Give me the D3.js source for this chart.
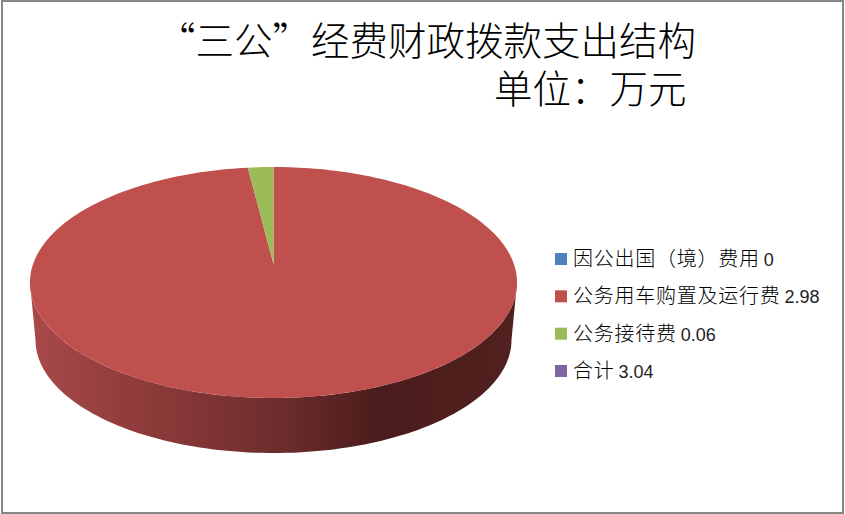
<!DOCTYPE html>
<html>
<head>
<meta charset="utf-8">
<script src="https://cdn.jsdelivr.net/npm/d3@7"></script>
<style>
  html, body { margin: 0; padding: 0; background: #fff; }
  svg { display: block; }
  .cjk { font-family: "Noto Sans CJK SC", sans-serif; }
</style>
</head>
<body>
<div id="chart"></div>
<script>
const categories = ["因公出国（境）费用", "公务用车购置及运行费", "公务接待费", "合计"];
const values = [0, 2.98, 0.06, 3.04];
const valueLabels = ["0", "2.98", "0.06", "3.04"];
// 合计 is only listed in the legend, the pie itself shows the three items
const pieValues = [0, 2.98, 0.06, 0];
const colors = ["#4f81bd", "#c0504d", "#9bbb59", "#8064a2"];
const titleLines = ["“三公”经费财政拨款支出结构", "单位：万元"];

const width = 845, height = 514;
const svg = d3.select("#chart").append("svg")
    .attr("width", width)
    .attr("height", height);

svg.append("rect")
    .attr("x", 2).attr("y", 1)
    .attr("width", 841).attr("height", 512)
    .attr("fill", "#fff")
    .attr("stroke", "#868686")
    .attr("stroke-width", 2);

// tilted pie: circle seen in perspective, k sets how much the near side grows
const cx = 273.5, apexY = 264, A = 240.4, B = 112.5, k = 0.16;
function project(angle) {
    const u = Math.sin(angle), v = Math.cos(angle);
    const w = 1 + k * v;
    return [cx + A * u / w, apexY - B * v / w];
}
// lower rim of the side wall
const lowCy = 340, lowRx = 238, lowRy = 113;

const defs = svg.append("defs");
const grad = defs.append("linearGradient")
    .attr("id", "side")
    .attr("gradientUnits", "userSpaceOnUse")
    .attr("x1", 30).attr("x2", 517).attr("y1", 0).attr("y2", 0);
[[0, "#a8494a"], [0.25, "#8c3a39"], [0.5, "#6f2e2e"], [0.72, "#4a1c1b"], [1, "#52211f"]].forEach(s => {
    grad.append("stop").attr("offset", s[0]).attr("stop-color", s[1]);
});

const line = d3.line();
// side wall, left extreme to right extreme round the near side
const sideStart = Math.PI + Math.PI / 2 - Math.asin(k);
const sideEnd = Math.PI / 2 + Math.asin(k);
const rimPts = d3.range(0, 121).map(i => project(sideStart + (sideEnd - sideStart) * i / 120));
const lowPts = d3.range(0, 121).map(i => {
    const t = Math.PI * i / 120;
    return [cx + lowRx * Math.cos(t), lowCy + lowRy * Math.sin(t)];
});
svg.append("path")
    .attr("d", line(rimPts.concat(lowPts)) + "Z")
    .attr("fill", "url(#side)");

// top face
const pie = d3.pie().sort(null).startAngle(0).endAngle(2 * Math.PI);
const arcs = pie(pieValues);
svg.append("g").selectAll("path")
    .data(arcs.filter(d => d.value > 0))
    .join("path")
    .attr("d", d => {
        const n = Math.ceil((d.endAngle - d.startAngle) * 40);
        const pts = d3.range(0, n + 1).map(i => project(d.startAngle + (d.endAngle - d.startAngle) * i / n));
        return line([[cx, apexY]].concat(pts)) + "Z";
    })
    .attr("fill", d => colors[d.index]);

// title
svg.append("text").attr("class", "cjk")
    .attr("x", 157).attr("y", 55)
    .attr("font-size", 38.5).attr("font-weight", 300)
    .attr("fill", "#000")
    .text(titleLines[0]);
svg.append("text").attr("class", "cjk")
    .attr("x", 494).attr("y", 103)
    .attr("font-size", 38.5).attr("font-weight", 300)
    .attr("fill", "#000")
    .text(titleLines[1]);

// legend
const legendY = d3.scalePoint().domain(categories).range([259, 371]);
const legend = svg.append("g").selectAll("g")
    .data(categories)
    .join("g")
    .attr("transform", d => "translate(555," + legendY(d) + ")");
legend.append("rect")
    .attr("x", 0).attr("y", -6)
    .attr("width", 12).attr("height", 12)
    .attr("fill", (d, i) => colors[i]);
const legendText = legend.append("text")
    .attr("x", 18).attr("y", 7)
    .attr("fill", "#000");
legendText.append("tspan").attr("class", "cjk")
    .attr("font-size", 20).attr("letter-spacing", 0.75).attr("font-weight", 300)
    .text(d => d);
legendText.append("tspan")
    .attr("dx", 4)
    .attr("font-family", "'Liberation Sans', sans-serif")
    .attr("font-size", 18).attr("fill", "#222")
    .text((d, i) => valueLabels[i]);
</script>
</body>
</html>
